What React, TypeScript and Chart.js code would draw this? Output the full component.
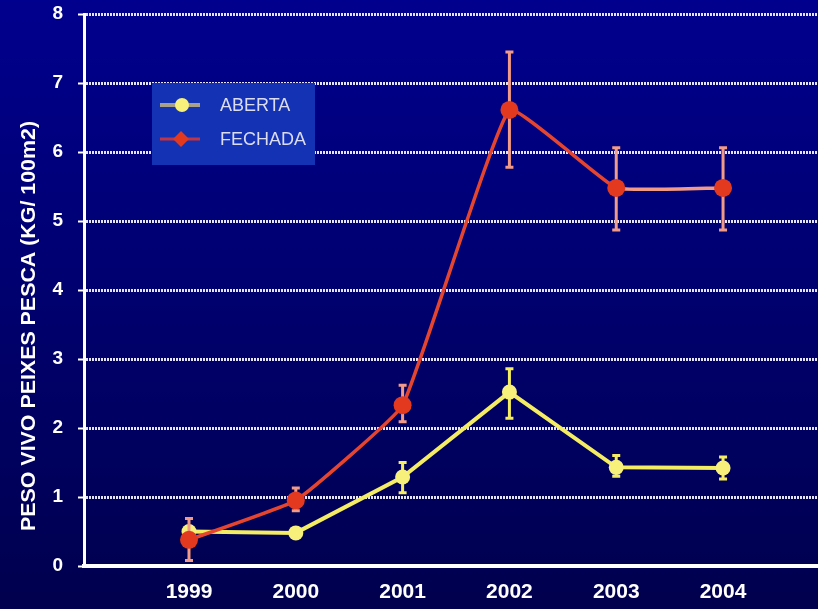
import { useEffect, useRef } from 'react';
import { Chart, registerables } from 'chart.js';

Chart.register(...registerables);

const years = ['1999', '2000', '2001', '2002', '2003', '2004'];
const seriesNames = ['ABERTA', 'FECHADA'];
const abertaValues = [0.5, 0.48, 1.29, 2.52, 1.43, 1.42];
const abertaUpper = [0.57, 0.52, 1.5, 2.86, 1.6, 1.58];
const abertaLower = [0.42, 0.45, 1.06, 2.14, 1.3, 1.26];
const fechadaValues = [0.38, 0.95, 2.33, 6.61, 5.48, 5.48];
const fechadaUpper = [0.69, 1.13, 2.62, 7.45, 6.06, 6.06];
const fechadaLower = [0.08, 0.8, 2.09, 5.78, 4.87, 4.87];
const yTicks = [0, 1, 2, 3, 4, 5, 6, 7, 8];
const yTitle = 'PESO VIVO PEIXES PESCA (KG/ 100m2)';

const FONT = "'Liberation Sans', 'DejaVu Sans Condensed', sans-serif";

export default function App() {
  const ref = useRef<HTMLCanvasElement>(null);

  useEffect(() => {
    document.body.style.margin = '0';
    const canvas = ref.current;
    if (!canvas) return;

    const errors = [
      { upper: abertaUpper, lower: abertaLower, color: '#f4ec62', width: 3 },
      { upper: fechadaUpper, lower: fechadaLower, color: '#f29a88', width: 3 },
    ];

    const bgPlugin = {
      id: 'bg',
      beforeDraw(chart: any) {
        const { ctx, width, height } = chart;
        const g = ctx.createLinearGradient(0, 0, 0, height);
        g.addColorStop(0, '#00008e');
        g.addColorStop(1, '#00004e');
        ctx.save();
        ctx.fillStyle = g;
        ctx.fillRect(0, 0, width, height);
        ctx.restore();
      },
    };

    const errorPlugin = {
      id: 'errbars',
      beforeDatasetDraw(chart: any, args: any) {
        const e = errors[args.index];
        if (!e) return;
        const ys = chart.scales.y;
        const ctx = chart.ctx;
        ctx.save();
        ctx.strokeStyle = e.color;
        ctx.lineWidth = e.width;
        args.meta.data.forEach((pt: any, j: number) => {
          const x = pt.x;
          const yU = ys.getPixelForValue(e.upper[j]);
          const yL = ys.getPixelForValue(e.lower[j]);
          ctx.beginPath();
          ctx.moveTo(x, yU);
          ctx.lineTo(x, yL);
          ctx.moveTo(x - 4, yU);
          ctx.lineTo(x + 4, yU);
          ctx.moveTo(x - 4, yL);
          ctx.lineTo(x + 4, yL);
          ctx.stroke();
        });
        ctx.restore();
      },
    };

    const legendPlugin = {
      id: 'boxlegend',
      afterDraw(chart: any) {
        const ctx = chart.ctx;
        const ds = chart.data.datasets;
        ctx.save();
        ctx.fillStyle = '#1432b4';
        ctx.fillRect(152, 83, 163, 82);
        const y1 = 105;
        ctx.strokeStyle = '#a8a088';
        ctx.lineWidth = 4;
        ctx.beginPath();
        ctx.moveTo(160, y1);
        ctx.lineTo(200, y1);
        ctx.stroke();
        ctx.fillStyle = ds[0].pointBackgroundColor;
        ctx.beginPath();
        ctx.arc(182, y1, 7, 0, Math.PI * 2);
        ctx.fill();
        const y2 = 139;
        ctx.strokeStyle = '#c03545';
        ctx.lineWidth = 3;
        ctx.beginPath();
        ctx.moveTo(160, y2);
        ctx.lineTo(200, y2);
        ctx.stroke();
        ctx.fillStyle = ds[1].pointBackgroundColor;
        ctx.beginPath();
        ctx.moveTo(181, y2 - 8);
        ctx.lineTo(189, y2);
        ctx.lineTo(181, y2 + 8);
        ctx.lineTo(173, y2);
        ctx.closePath();
        ctx.fill();
        ctx.fillStyle = '#dcdcf0';
        ctx.font = "18px 'Liberation Sans', sans-serif";
        ctx.textAlign = 'left';
        ctx.textBaseline = 'middle';
        ctx.fillText(ds[0].label, 220, y1 + 1);
        ctx.fillText(ds[1].label, 220, y2 + 1);
        ctx.restore();
      },
    };

    const titlePlugin = {
      id: 'ytitle',
      afterDraw(chart: any) {
        const ctx = chart.ctx;
        ctx.save();
        ctx.translate(29, 326);
        ctx.rotate(-Math.PI / 2);
        ctx.font = `bold 20px ${FONT}`;
        const w = ctx.measureText(yTitle).width;
        ctx.scale(410 / w, 1);
        ctx.fillStyle = '#ffffff';
        ctx.textAlign = 'center';
        ctx.textBaseline = 'middle';
        ctx.fillText(yTitle, 0, 0);
        ctx.restore();
      },
    };

    const chart = new Chart(canvas, {
      type: 'line',
      data: {
        datasets: [
          {
            label: seriesNames[0],
            data: abertaValues.map((y, i) => ({ x: i, y })),
            borderColor: '#f4ec62',
            backgroundColor: '#f7f07a',
            pointBackgroundColor: '#f7f07a',
            pointBorderWidth: 0,
            pointRadius: 7.5,
            borderWidth: 4,
            tension: 0,
            order: 2,
          },
          {
            label: seriesNames[1],
            data: fechadaValues.map((y, i) => ({ x: i, y })),
            borderColor: '#e5452f',
            backgroundColor: '#e3391f',
            pointBackgroundColor: '#e3391f',
            pointBorderWidth: 0,
            pointRadius: 9,
            borderWidth: 3.5,
            tension: 0.1,
            segment: {
              borderColor: (c: any) => (c.p0DataIndex === 4 ? '#f29a88' : undefined),
            },
            order: 1,
          },
        ],
      },
      options: {
        animation: false,
        responsive: false,
        maintainAspectRatio: false,
        layout: { autoPadding: false, padding: { top: 14, left: 0, right: 0, bottom: 0 } },
        plugins: {
          legend: { display: false },
          tooltip: { enabled: false },
        },
        scales: {
          x: {
            type: 'linear',
            min: -0.983,
            max: 5.889,
            afterBuildTicks: (s: any) => {
              s.ticks = years.map((_, i) => ({ value: i }));
            },
            afterFit: (s: any) => {
              s.height = 43;
              s.paddingLeft = 0;
              s.paddingRight = 0;
              s.paddingTop = 0;
              s.paddingBottom = 0;
            },
            grid: { display: false, drawTicks: false },
            border: { display: true, color: '#ffffff', width: 4 },
            ticks: {
              color: '#ffffff',
              font: { family: FONT, size: 21, weight: 'bold' },
              padding: 14,
              maxRotation: 0,
              autoSkip: false,
              callback: (v: any) => years[v] ?? '',
            },
          },
          y: {
            type: 'linear',
            min: 0,
            max: 8,
            afterBuildTicks: (s: any) => {
              s.ticks = yTicks.map((v) => ({ value: v }));
            },
            afterFit: (s: any) => {
              s.width = 84;
              s.paddingLeft = 0;
              s.paddingRight = 0;
              s.paddingTop = 0;
              s.paddingBottom = 0;
            },
            grid: {
              color: '#e4e4ff',
              lineWidth: 3,
              tickColor: '#ffffff',
              tickLength: 6,
              tickWidth: 2,
              tickBorderDash: [],
            },
            border: { color: '#ffffff', width: 3, dash: [2, 1] },
            ticks: {
              color: '#ffffff',
              font: { family: FONT, size: 19, weight: 'bold' },
              padding: 15,
              callback: (v: any) => String(v),
            },
          },
        },
      },
      plugins: [bgPlugin, errorPlugin, legendPlugin, titlePlugin],
    } as any);

    return () => chart.destroy();
  }, []);

  return <canvas ref={ref} width={818} height={609} style={{ display: 'block' }} />;
}
